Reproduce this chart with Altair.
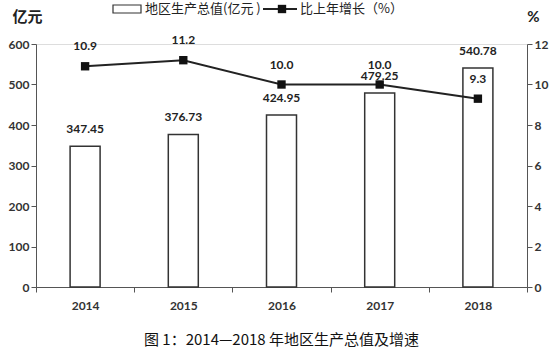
import altair as alt
import pandas as pd

years = ["2014", "2015", "2016", "2017", "2018"]
gdp = [347.45, 376.73, 424.95, 479.25, 540.78]
growth = [10.9, 11.2, 10.0, 10.0, 9.3]
gdp_ticks = [0, 100, 200, 300, 400, 500, 600]
growth_ticks = [0, 2, 4, 6, 8, 10, 12]
legend_bar = "地区生产总值(亿元 )"
legend_line = "比上年增长（%）"
caption = "图 1：2014—2018 年地区生产总值及增速"

df = pd.DataFrame({"year": years, "gdp": gdp, "growth": growth})
one = pd.DataFrame({"k": [0]})

NUM = "Lato"
CJK = "Noto Sans CJK SC"
DARK = "#333333"

x = alt.X("year:N", scale=alt.Scale(paddingInner=0, paddingOuter=0),
          axis=alt.Axis(title=None, labelAngle=0, tickBand="extent", labelFont=NUM,
                        labelFontSize=12, labelFontWeight="bold", labelColor=DARK,
                        labelPadding=8, tickSize=5, domainColor="#555", tickColor="#555"))

yl = alt.Y("gdp:Q", scale=alt.Scale(domain=[0, 600]),
           axis=alt.Axis(orient="left", values=gdp_ticks, grid=False, title="亿元",
                         titleAngle=0, titleX=-9, titleY=-28, titleAlign="center",
                         titleBaseline="middle", titleFont=CJK, titleFontSize=15,
                         titleFontWeight="bold", titleColor="#222",
                         labelFont=NUM, labelFontSize=12, labelColor=DARK, labelFontWeight="bold",
                         tickSize=5, domainColor="#555", tickColor="#555"))

yr = alt.Y("growth:Q", scale=alt.Scale(domain=[0, 12]),
           axis=alt.Axis(orient="right", values=growth_ticks, grid=False, title="%",
                         titleAngle=0, titleX=6, titleY=-28, titleAlign="center",
                         titleBaseline="middle", titleFont=NUM, titleFontSize=15,
                         titleFontWeight="bold", titleColor="#222",
                         labelFont=NUM, labelFontSize=12, labelColor=DARK, labelFontWeight="bold",
                         tickSize=5, domainColor="#555", tickColor="#555"))

base = alt.Chart(df)
bars = base.mark_bar(size=30, fill="white", stroke="#333", strokeWidth=1.5).encode(x=x, y=yl)
bar_text = base.mark_text(dy=-17, font=NUM, fontSize=12, fontWeight="bold", color="#222",
                          baseline="middle").encode(x=x, y=yl, text=alt.Text("gdp:Q", format=".2f"))

line = base.mark_line(color="#222", strokeWidth=2).encode(x=x, y=yr)
pts = base.mark_square(size=70, color="#111", opacity=1).encode(x=x, y=yr)
line_text = base.mark_text(dy=-20, font=NUM, fontSize=12, fontWeight="bold", color="#222",
                           baseline="middle").encode(x=x, y=yr, text=alt.Text("growth:Q", format=".1f"))

lg = alt.Chart(one)
lg_box = lg.mark_rect(fill="white", stroke="#333", strokeWidth=1.2).encode(
    x=alt.value(77), x2=alt.value(105), y=alt.value(-39), y2=alt.value(-31))
lg_t1 = lg.mark_text(align="left", baseline="middle", font=CJK, fontSize=13, color="#222").encode(
    x=alt.value(109), y=alt.value(-35), text=alt.value(legend_bar))
lg_line = lg.mark_rule(color="#222", strokeWidth=2).encode(
    x=alt.value(227), x2=alt.value(261), y=alt.value(-35))
lg_sq = lg.mark_square(size=70, color="#111", opacity=1).encode(x=alt.value(246), y=alt.value(-35))
lg_t2 = lg.mark_text(align="left", baseline="middle", font=CJK, fontSize=13, color="#222").encode(
    x=alt.value(264), y=alt.value(-35), text=alt.value(legend_line))

left = alt.layer(bars, bar_text)
right = alt.layer(line, pts, line_text)

chart = alt.layer(left, right, lg_box, lg_t1, lg_line, lg_sq, lg_t2).resolve_scale(
    y="independent").properties(
    width=491, height=243,
    padding={"left": 36, "top": 44, "right": 23, "bottom": 67},
    autosize=alt.AutoSizeParams(type="none"),
    title=alt.TitleParams(caption, orient="bottom", font=CJK, fontSize=15, fontWeight="normal",
                          color="#111", offset=22, anchor="middle"),
).configure_view(stroke=None).configure(background="white")

chart.save("out.html", embed_options={"renderer": "svg", "actions": False})
